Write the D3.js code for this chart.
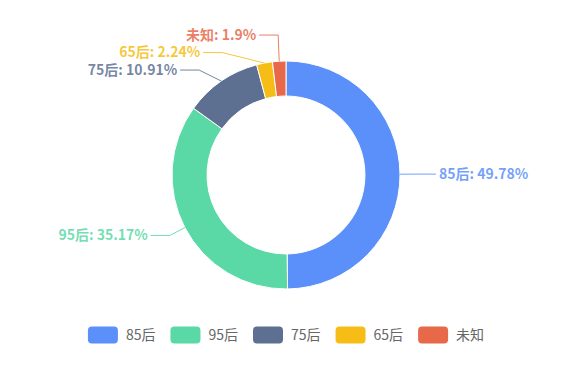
<!DOCTYPE html>
<html>
<head>
<meta charset="utf-8">
<script src="https://cdn.jsdelivr.net/npm/d3@7"></script>
<style>
  html, body { margin: 0; padding: 0; background: #fff; }
  svg { display: block; }
</style>
</head>
<body>
<svg id="chart" width="565" height="368"></svg>
<script>
const categories = ["85后", "95后", "75后", "65后", "未知"];
const values = [49.78, 35.17, 10.91, 2.24, 1.9];
const colors = ["#5B8FF9", "#5AD8A6", "#5D7092", "#F6BD16", "#E8684A"];

const W = 565, H = 368;
const cx = 286, cy = 175;
const rOuter = 114, rInner = 79;
const len1 = 17, len2 = 19, textGap = 3, labelH = 17.5;
const font = "'Noto Sans CJK SC', 'Noto Sans', sans-serif";

const svg = d3.select("#chart");
const data = categories.map((c, i) => ({ name: c, value: values[i], color: colors[i] }));

const pie = d3.pie().sort(null).value(d => d.value).startAngle(0).endAngle(2 * Math.PI);
const arcs = pie(data);
const arc = d3.arc().innerRadius(rInner).outerRadius(rOuter);

const g = svg.append("g").attr("transform", `translate(${cx},${cy})`);
g.selectAll("path.slice").data(arcs).enter().append("path")
  .attr("class", "slice")
  .attr("d", arc)
  .attr("fill", d => d.data.color)
  .attr("stroke", "#fff")
  .attr("stroke-width", 1);

// label layout (relative to center)
const rA = rOuter + len1;
const labels = arcs.map(d => {
  const a = (d.startAngle + d.endAngle) / 2;
  const sx = rOuter * Math.sin(a), sy = -rOuter * Math.cos(a);
  const kx = rA * Math.sin(a), ky = -rA * Math.cos(a);
  return { d, a, sx, sy, kx, ky, dir: kx >= 0 ? 1 : -1 };
});

function adjustSide(list) {
  if (list.length < 2) return;
  list.sort((p, q) => p.ky - q.ky);
  let shifted = false;
  for (let it = 0; it < 200; it++) {
    let moved = false;
    for (let i = 0; i < list.length - 1; i++) {
      const gap = list[i + 1].ky - list[i].ky;
      if (gap < labelH - 1e-6) {
        const m = (labelH - gap) / 2;
        list[i].ky -= m; list[i + 1].ky += m;
        moved = true; shifted = true;
      }
    }
    if (!moved) break;
  }
  if (!shifted) return;
  [list.filter(l => l.ky <= 0), list.filter(l => l.ky > 0)].forEach(semi => {
    if (!semi.length) return;
    let maxY = -1, rB = rA;
    semi.forEach(l => {
      const dy = Math.abs(l.ky);
      if (dy >= maxY) {
        const dx = l.kx;
        rB = Math.abs(dx) < rA ? Math.sqrt(dy * dy / (1 - dx * dx / (rA * rA))) : rA;
        maxY = dy;
      }
    });
    semi.forEach(l => {
      const dy = Math.abs(l.ky);
      const dx = Math.sqrt(Math.max(0, 1 - dy * dy / (rB * rB))) * rA;
      l.kx = dx * l.dir;
    });
  });
}
adjustSide(labels.filter(l => l.dir > 0));
adjustSide(labels.filter(l => l.dir < 0));

const lab = g.selectAll("g.lab").data(labels).enter().append("g").attr("class", "lab");
lab.append("polyline")
  .attr("points", l => [[l.sx, l.sy], [l.kx, l.ky], [l.kx + l.dir * len2, l.ky]].map(p => p.join(",")).join(" "))
  .attr("fill", "none")
  .attr("stroke", l => l.d.data.color)
  .attr("stroke-opacity", 0.85)
  .attr("stroke-width", 1);
lab.append("text")
  .attr("x", l => l.kx + l.dir * (len2 + textGap))
  .attr("y", l => l.ky)
  .attr("dy", "0.35em")
  .attr("text-anchor", l => l.dir > 0 ? "start" : "end")
  .attr("fill", l => l.d.data.color)
  .attr("fill-opacity", 0.85)
  .style("font-family", font)
  .style("font-size", "14px")
  .style("font-weight", 700)
  .text(l => `${l.d.data.name}: ${l.d.data.value}%`);

// legend
const itemW = 30, itemH = 17, iconGap = 8, itemGap = 15, legendY = 335;
const legend = svg.append("g");
const items = legend.selectAll("g.item").data(data).enter().append("g").attr("class", "item");
items.append("rect")
  .attr("width", itemW).attr("height", itemH)
  .attr("y", -itemH / 2)
  .attr("rx", 4).attr("ry", 4)
  .attr("fill", d => d.color);
items.append("text")
  .attr("x", itemW + iconGap)
  .attr("dy", "0.35em")
  .attr("fill", "#666")
  .style("font-family", font)
  .style("font-size", "14px")
  .text(d => d.name);
let x = 0;
items.each(function () {
  const w = this.getBBox().width;
  d3.select(this).attr("transform", `translate(${x},${legendY})`);
  x += w + itemGap;
});
const totalW = x - itemGap;
legend.attr("transform", `translate(${cx - totalW / 2},0)`);
</script>
</body>
</html>
